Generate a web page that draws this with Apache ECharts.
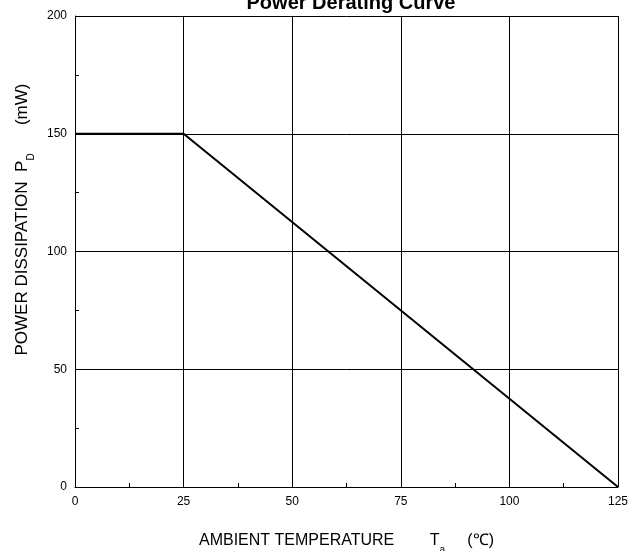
<!DOCTYPE html>
<html><head><meta charset="utf-8">
<script src="https://cdn.jsdelivr.net/npm/echarts@6/dist/echarts.min.js"></script>
<style>html,body{margin:0;padding:0;background:#fff;overflow:hidden}#c{width:630px;height:551px}</style>
</head><body><div id="c"></div>
<script>
const temps = [0, 25, 125];
const power = [150, 150, 0];
const xTicks = [0, 25, 50, 75, 100, 125];
const yTicks = [0, 50, 100, 150, 200];

const F = '"Liberation Sans", Arial, sans-serif';
const chart = echarts.init(document.getElementById('c'));
chart.setOption({
  animation: false,
  backgroundColor: '#fff',
  title: {
    text: 'Power Derating Curve', left: 346, textAlign: 'center', top: -12,
    textStyle: { fontFamily: F, fontSize: 20, fontWeight: 'bold', color: '#000' }
  },
  grid: { left: 75, right: 12, top: 16, bottom: 64, containLabel: false, outerBoundsMode: 'none' },
  xAxis: {
    type: 'value', min: 0, max: 125, interval: 25,
    name: 'AMBIENT TEMPERATURE        T{sub|a}     (℃)',
    nameLocation: 'middle', nameGap: 40,
    nameTextStyle: { fontFamily: F, fontSize: 16, color: '#000',
      rich: { sub: { fontFamily: F, fontSize: 10, color: '#000', padding: [18, 0, 0, 0] } } },
    axisLine: { show: true, lineStyle: { color: '#000', width: 1 } },
    axisTick: { show: true, inside: true, length: 4, lineStyle: { color: '#000' } },
    minorTick: { show: true, splitNumber: 2, length: 4, lineStyle: { color: '#000' } },
    axisLabel: { fontFamily: F, fontSize: 12, color: '#000', margin: 9,
      formatter: v => xTicks.includes(v) ? String(v) : '' },
    splitLine: { show: true, lineStyle: { color: '#000', width: 1 } }
  },
  yAxis: {
    type: 'value', min: 0, max: 200, interval: 50,
    name: 'POWER DISSIPATION  P{sub|D}      (mW)',
    nameLocation: 'middle', nameGap: 39, nameRotate: 90,
    nameTextStyle: { fontFamily: F, fontSize: 17, color: '#000', padding: [0, 0, 0, 64],
      rich: { sub: { fontFamily: F, fontSize: 10, color: '#000', padding: [18, 0, 0, 0] } } },
    axisLine: { show: true, lineStyle: { color: '#000', width: 1 } },
    axisTick: { show: true, inside: true, length: 4, lineStyle: { color: '#000' } },
    minorTick: { show: true, splitNumber: 2, length: 4, lineStyle: { color: '#000' } },
    axisLabel: { fontFamily: F, fontSize: 12, color: '#000', margin: 8,
      formatter: v => yTicks.includes(v) ? String(v) : '' },
    splitLine: { show: true, lineStyle: { color: '#000', width: 1 } }
  },
  series: [{
    type: 'line', data: temps.map((t, i) => [t, power[i]]),
    symbol: 'none', lineStyle: { color: '#000', width: 2 }
  }]
});
</script></body></html>
